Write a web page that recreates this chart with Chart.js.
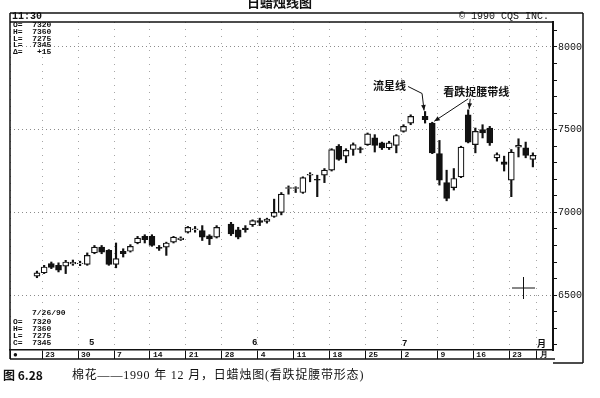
<!DOCTYPE html>
<html>
<head>
<meta charset="utf-8">
<script src="https://cdn.jsdelivr.net/npm/chart.js@4.4.1/dist/chart.umd.min.js"></script>
<style>
  html, body { margin: 0; padding: 0; background: #fff; }
  #wrap { position: relative; width: 600px; height: 398px; overflow: hidden; color: #111; font-family: 'Liberation Mono', monospace; }
  #wrap canvas { position: absolute; left: 0; top: 0; }
  .t { position: absolute; white-space: pre; line-height: 1; }
  .cjk { font-family: 'Noto Sans CJK SC', sans-serif; }
</style>
</head>
<body>
<div id="wrap">
  <canvas id="chart" width="600" height="398"></canvas>
  <div class="t cjk" style="left:247px; top:-5px; font-size:13px; font-weight:700;">日蜡烛线图</div>
  <div class="t" style="left:12px; top:12px; font-size:10px; font-weight:700;">11:30</div>
  <div class="t" style="left:459px; top:12px; font-size:10px;">© 1990 CQS INC.</div>
  <div class="t" style="left:13px; top:22px; font-size:8px; line-height:6.8px; font-weight:700;">O=  7320
H=  7360
L=  7275
L=  7345
Δ=   +15</div>
  <div class="t" style="left:32px; top:309px; font-size:8px; font-weight:700;">7/26/90</div>
  <div class="t" style="left:13px; top:318px; font-size:8px; line-height:7px; font-weight:700;">O=  7320
H=  7360
L=  7275
C=  7345</div>
  <div class="t" style="left:89px; top:339px; font-size:9px; font-weight:700;">5</div>
  <div class="t" style="left:252px; top:339px; font-size:9px; font-weight:700;">6</div>
  <div class="t" style="left:402px; top:340px; font-size:9px; font-weight:700;">7</div>
  <div class="t cjk" style="left:537px; top:339px; font-size:9px; font-weight:700;">月</div>
  <div class="t cjk" style="left:3px; top:369px; font-size:12px; font-weight:700;">图 6.28</div>
  <div class="t" style="left:72px; top:369px; font-size:12px; letter-spacing:0.8px; font-family:'Liberation Serif','Noto Sans CJK SC',serif;">棉花——1990 年 12 月，日蜡烛图(看跌捉腰带形态)</div>
</div>
<script>
// cotton, daily, spring-summer 1990
const dates = ['04-20', '04-23', '04-24', '04-25', '04-26', '04-27', '04-30', '05-01', '05-02', '05-03', '05-04',
    '05-07', '05-08', '05-09', '05-10', '05-11', '05-14', '05-15', '05-16', '05-17', '05-18',
    '05-21', '05-22', '05-23', '05-24', '05-25', '05-29', '05-30', '05-31', '06-01',
    '06-04', '06-05', '06-06', '06-07', '06-08', '06-11', '06-12', '06-13', '06-14', '06-15',
    '06-18', '06-19', '06-20', '06-21', '06-22', '06-25', '06-26', '06-27', '06-28', '06-29',
    '07-02', '07-03', '07-05', '07-06', '07-09', '07-10', '07-11', '07-12', '07-13',
    '07-16', '07-17', '07-18', '07-19', '07-20', '07-23', '07-24', '07-25', '07-26']
const opens = [6615, 6635, 6690, 6680, 6675, 6688, 6690, 6685, 6755, 6790, 6770,
    6685, 6765, 6765, 6815, 6855, 6855, 6788, 6790, 6820, 6835,
    6880, 6895, 6890, 6858, 6850, 6930, 6895, 6905, 6925,
    6950, 6945, 6975, 7000, 7145, 7145, 7120, 7225, 7200, 7225,
    7255, 7400, 7340, 7380, 7385, 7410, 7450, 7420, 7390, 7405,
    7490, 7540, 7580, 7540, 7355, 7180, 7150, 7215, 7590,
    7410, 7500, 7510, 7330, 7305, 7195, 7395, 7390, 7320]
const highs = [6645, 6680, 6700, 6695, 6710, 6712, 6705, 6755, 6800, 6800, 6775,
    6815, 6780, 6805, 6855, 6865, 6865, 6800, 6820, 6855, 6852,
    6915, 6915, 6920, 6865, 6920, 6940, 6910, 6920, 6955,
    6965, 6965, 7080, 7120, 7160, 7155, 7215, 7240, 7225, 7265,
    7385, 7410, 7385, 7420, 7395, 7480, 7470, 7425, 7430, 7470,
    7530, 7590, 7610, 7545, 7435, 7255, 7265, 7400, 7620,
    7510, 7530, 7520, 7360, 7340, 7380, 7445, 7425, 7360]
const lows = [6605, 6630, 6660, 6640, 6630, 6680, 6678, 6680, 6750, 6750, 6680,
    6665, 6730, 6760, 6810, 6815, 6795, 6770, 6740, 6815, 6830,
    6875, 6880, 6830, 6805, 6845, 6860, 6840, 6880, 6915,
    6920, 6935, 6970, 6985, 7110, 7120, 7115, 7185, 7095, 7180,
    7250, 7315, 7300, 7345, 7360, 7405, 7365, 7380, 7380, 7360,
    7485, 7530, 7540, 7355, 7165, 7070, 7135, 7210, 7420,
    7360, 7450, 7405, 7310, 7250, 7095, 7335, 7330, 7275]
const closes = [6635, 6670, 6668, 6650, 6700, 6698, 6694, 6740, 6790, 6760, 6685,
    6720, 6750, 6795, 6845, 6835, 6800, 6782, 6815, 6850, 6845,
    6910, 6900, 6850, 6840, 6910, 6870, 6850, 6895, 6950,
    6940, 6960, 7000, 7110, 7150, 7150, 7210, 7230, 7195, 7255,
    7380, 7320, 7375, 7410, 7380, 7475, 7405, 7390, 7420, 7465,
    7520, 7580, 7560, 7360, 7195, 7085, 7205, 7395, 7425,
    7490, 7480, 7420, 7350, 7290, 7365, 7405, 7345, 7345]

// week boxes along the bottom strip
const weekStarts = ['04-23', '04-30', '05-07', '05-14', '05-21', '05-28', '06-04', '06-11',
    '06-18', '06-25', '07-02', '07-09', '07-16', '07-23']
const weekLabels = ['23', '30', '7', '14', '21', '28', '4', '11', '18', '25', '2', '9', '16', '23']
const priceLabels = [6500, 7000, 7500, 8000]

// trading-day slot counted from Monday 16 April, holidays keep their slot
const firstMonday = Date.UTC(1990, 3, 16)
function slotOf(d) {
    const days = Math.round((Date.parse('1990-' + d + 'T00:00:00Z') - firstMonday) / 86400000)
    return Math.floor(days / 7) * 5 + days % 7
}

const xs = dates.map(slotOf)
const xMin = 0.25, xMax = 75.8
const stripTicks = [xMin, ...weekStarts.map(d => slotOf(d) - 0.28), 73.55]
const stripLabels = ['●', ...weekLabels, '月']
const minorTicks = []
for (let v = 6200; v <= 8100; v += 100) minorTicks.push(v)

const ink = '#111'

function line(ctx, x1, y1, x2, y2) {
    ctx.beginPath()
    ctx.moveTo(x1, y1)
    ctx.lineTo(x2, y2)
    ctx.stroke()
}

function arrow(ctx, pts) {
    ctx.beginPath()
    ctx.moveTo(pts[0][0], pts[0][1])
    pts.slice(1).forEach(p => ctx.lineTo(p[0], p[1]))
    ctx.stroke()
    const [x1, y1] = pts[pts.length - 2]
    const [x2, y2] = pts[pts.length - 1]
    const a = Math.atan2(y2 - y1, x2 - x1)
    ctx.beginPath()
    ctx.moveTo(x2, y2)
    ctx.lineTo(x2 - 6 * Math.cos(a - 0.4), y2 - 6 * Math.sin(a - 0.4))
    ctx.lineTo(x2 - 6 * Math.cos(a + 0.4), y2 - 6 * Math.sin(a + 0.4))
    ctx.closePath()
    ctx.fill()
}

// frame, cursor and the two pattern call-outs
const decor = {
    id: 'decor',
    afterDraw(chart) {
        const { ctx, chartArea: a, scales: { x, y } } = chart
        ctx.save()
        ctx.strokeStyle = ink
        ctx.fillStyle = ink
        ctx.lineWidth = 1.5
        line(ctx, a.left, 13, 583, 13)
        line(ctx, a.left, 13, a.left, 359)
        line(ctx, a.left, a.top, a.right, a.top)
        line(ctx, a.left, 359, a.right + 2, 359)
        line(ctx, 583, 13, 583, 363)
        line(ctx, a.right, 363, 583, 363)

        ctx.lineWidth = 1
        line(ctx, 512, 288, 535, 288)
        line(ctx, 523.5, 277, 523.5, 299)

        const star = dates.indexOf('07-05')
        const sx = x.getPixelForValue(xs[star]), sy = y.getPixelForValue(highs[star])
        ctx.font = 'bold 11px "Noto Sans CJK SC"'
        ctx.textBaseline = 'middle'
        ctx.textAlign = 'right'
        ctx.fillText('流星线', sx - 19, sy - 26)
        arrow(ctx, [[sx - 17, sy - 25], [sx - 3, sy - 18], [sx - 1, sy - 1]])

        const b1 = dates.indexOf('07-06'), b2 = dates.indexOf('07-13')
        const bx1 = x.getPixelForValue(xs[b1]), by1 = y.getPixelForValue(highs[b1])
        const bx2 = x.getPixelForValue(xs[b2]), by2 = y.getPixelForValue(highs[b2])
        ctx.textAlign = 'left'
        ctx.fillText('看跌捉腰带线', bx1 + 11, by2 - 18)
        arrow(ctx, [[bx2, by2 - 11], [bx1 + 2, by1 - 1]])
        arrow(ctx, [[bx2 + 2, by2 - 11], [bx2 + 1, by2 - 1]])
        ctx.restore()
    }
}

new Chart(document.getElementById('chart'), {
    type: 'bar',
    data: {
        datasets: [
            {
                label: 'body',
                data: xs.map((v, k) => ({ x: v, y: [opens[k], closes[k]] })),
                backgroundColor: closes.map((c, k) => c >= opens[k] ? '#fff' : ink),
                borderColor: ink,
                borderWidth: 1.2,
                borderSkipped: false,
                barThickness: 6,
                grouped: false,
                order: 0
            },
            {
                label: 'range',
                data: xs.map((v, k) => ({ x: v, y: [lows[k], highs[k]] })),
                backgroundColor: ink,
                barThickness: 1.5,
                grouped: false,
                order: 1
            }
        ]
    },
    options: {
        responsive: false,
        animation: false,
        events: [],
        layout: { padding: { left: 10, top: 22, right: 17, bottom: 39 } },
        plugins: { legend: { display: false }, tooltip: { enabled: false } },
        scales: {
            x: {
                type: 'linear',
                min: xMin,
                max: xMax,
                offset: false,
                afterBuildTicks: s => { s.ticks = stripTicks.map(v => ({ value: v })) },
                afterFit: s => { s.height = 9 },
                ticks: {
                    autoSkip: false,
                    maxRotation: 0,
                    align: 'start',
                    labelOffset: 3,
                    padding: -9,
                    color: ink,
                    font: { family: 'Liberation Mono', size: 8, weight: 'bold' },
                    callback: (v, i) => stripLabels[i]
                },
                grid: {
                    offset: false,
                    color: 'rgba(0,0,0,0.35)',
                    tickColor: ink,
                    tickLength: 9,
                    tickWidth: 1
                },
                border: { display: true, color: ink, width: 1.5, dash: [1, 6] }
            },
            y: {
                position: 'right',
                min: 6168,
                max: 8151,
                afterBuildTicks: s => { s.ticks = minorTicks.map(v => ({ value: v })) },
                afterFit: s => { s.width = 30 },
                ticks: {
                    padding: 1,
                    color: ink,
                    font: { family: 'Liberation Mono', size: 10 },
                    callback: v => priceLabels.includes(v) ? String(v) : ''
                },
                grid: {
                    color: c => c.tick && priceLabels.includes(c.tick.value) ? 'rgba(0,0,0,0.45)' : 'transparent',
                    tickColor: ink,
                    tickLength: 4
                },
                border: { display: true, color: ink, width: 2, dash: [1, 3] }
            }
        }
    },
    plugins: [decor]
})
</script>
</body>
</html>
